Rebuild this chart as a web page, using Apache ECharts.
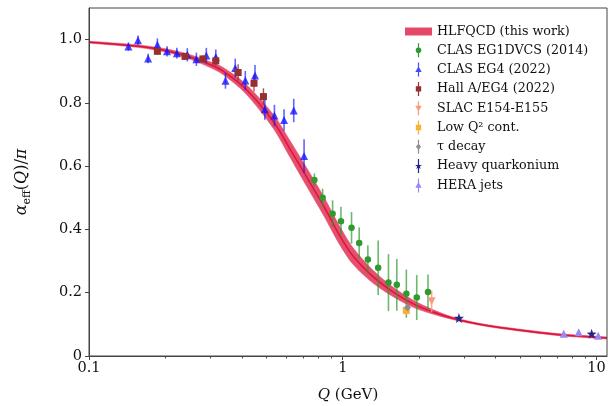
<!DOCTYPE html>
<html><head><meta charset="utf-8">
<script src="https://cdn.jsdelivr.net/npm/echarts@6/dist/echarts.min.js"></script>
<style>html,body{margin:0;padding:0;background:#fff}#c{width:608px;height:406px}</style>
</head><body><div id="c"></div><script>
// ---- HLFQCD curve ----
const curveQ = [0.1, 0.157, 0.2, 0.247, 0.3, 0.334, 0.414, 0.532, 0.619, 0.719, 0.837, 0.974, 1.1, 1.319, 1.582, 1.897, 2.275, 2.69, 3.27, 3.92, 5.31, 7.18, 11];
const curveV = [0.992, 0.979, 0.966, 0.947, 0.921, 0.903, 0.845, 0.742, 0.655, 0.567, 0.477, 0.380, 0.315, 0.25, 0.202, 0.165, 0.139, 0.12, 0.104, 0.093, 0.079, 0.067, 0.057];
const curveHalf = [0.003, 0.004, 0.005, 0.007, 0.009, 0.011, 0.015, 0.022, 0.026, 0.029, 0.030, 0.029, 0.026, 0.020, 0.015, 0.011, 0.007, 0.004, 0.003, 0.003, 0.003, 0.003, 0.003];

// ---- data sets: [Q, alpha/pi, error] ----
const clasEG1dvcs = [[0.773,0.556,0.021],[0.833,0.500,0.029],[0.912,0.450,0.042],[0.984,0.426,0.046],[1.083,0.405,0.050],[1.161,0.357,0.049],[1.256,0.305,0.045],[1.379,0.279,0.086],[1.514,0.232,0.090],[1.633,0.225,0.082],[1.781,0.197,0.076],[1.957,0.185,0.071],[2.167,0.202,0.056]];
const clasEG4 = [[0.143,0.978,0.013],[0.156,0.998,0.015],[0.171,0.940,0.015],[0.186,0.984,0.020],[0.203,0.963,0.016],[0.222,0.957,0.017],[0.244,0.952,0.021],[0.265,0.938,0.021],[0.290,0.950,0.024],[0.316,0.945,0.024],[0.345,0.870,0.025],[0.377,0.910,0.030],[0.413,0.871,0.030],[0.451,0.887,0.033],[0.493,0.780,0.033],[0.538,0.760,0.034],[0.587,0.746,0.034],[0.641,0.776,0.037],[0.704,0.632,0.053]];
const hallA = [[0.186,0.963,0.010],[0.239,0.947,0.010],[0.281,0.939,0.012],[0.316,0.933,0.015],[0.387,0.896,0.026],[0.447,0.862,0.026],[0.487,0.820,0.026]];
const slac = [[2.24,0.173,0.034]];
const lowQ2 = [[1.78,0.144,0.012]];
const tauDecay = [[1.80,0.153,0.010]];
const heavyQ = [[2.87,0.120,0.004],[9.57,0.070,0.004]];
const heraJets = [[7.43,0.070,0.003],[8.51,0.075,0.003],[10.16,0.064,0.003]];

// ---- axis ticks ----
const xMajor = [0.1, 1, 10];
const xMinor = [0.2,0.3,0.4,0.5,0.6,0.7,0.8,0.9,2,3,4,5,6,7,8,9];
const yTicks = [0, 0.2, 0.4, 0.6, 0.8, 1.0];

const FONT = 'DejaVu Serif';
const C = {
  curve: '#dc143c', band: '#e6506e',
  green: '#2f9a2f', blue: 'rgba(20,20,255,0.78)', brown: '#963030',
  salmon: '#fb9a78', orange: '#fcb030', gray: '#8f8f8f', navy: '#25258c', purple: '#9a88f0'
};
const starPath = 'M5,3.4 L5.85,5.83 L8.42,5.89 L6.38,7.45 L7.12,9.91 L5,8.45 L2.88,9.91 L3.62,7.45 L1.58,5.89 L4.15,5.83 Z';
const bar = 'M4.4,0 h1.2 v14 h-1.2 Z ';
const icons = {
  circle: 'path://' + bar + 'M2.2,7 A2.8,2.8 0 1,1 7.8,7 A2.8,2.8 0 1,1 2.2,7 Z',
  tri: 'path://' + bar + 'M5,3.6 L8.2,9.4 L1.8,9.4 Z',
  sq: 'path://' + bar + 'M2.3,4.3 h5.4 v5.4 h-5.4 Z',
  triDown: 'path://' + bar + 'M1.8,4.6 L8.2,4.6 L5,10.4 Z',
  diamond: 'path://' + bar + 'M5,3.8 L7.6,7 L5,10.2 L2.4,7 Z',
  star: 'path://' + bar + starPath
};

function errSeries(data, color, width, opacity) {
  return {
    type: 'custom', data: data, z: 3, silent: true,
    encode: {x: 0, y: 1},
    renderItem: function (params, api) {
      const x = api.value(0), y = api.value(1), e = api.value(2);
      const p1 = api.coord([x, y - e]), p2 = api.coord([x, y + e]);
      return {type: 'line', shape: {x1: p1[0], y1: p1[1], x2: p2[0], y2: p2[1]},
        style: {stroke: color, lineWidth: width, opacity: opacity}};
    }
  };
}
function scat(name, data, color, symbol, size, extra) {
  return Object.assign({
    name: name, type: 'scatter', data: data.map(d => [d[0], d[1]]), z: 4,
    symbol: symbol, symbolSize: size, itemStyle: {color: color, opacity: 1}
  }, extra || {});
}

const upper = curveQ.map((q, i) => [q, curveV[i] + curveHalf[i]]);
const lower = curveQ.map((q, i) => [q, curveV[i] - curveHalf[i]]);
const center = curveQ.map((q, i) => [q, curveV[i]]);
const SM = 0.3;

const chart = echarts.init(document.getElementById('c'), null, {renderer: 'canvas'});
chart.setOption({
  animation: false,
  textStyle: {fontFamily: FONT},
  grid: {left: 89, right: 1, top: 8, bottom: 50, show: true, borderColor: '#444', borderWidth: 1,
    z: 10, outerBoundsMode: 'none', containLabel: false},
  xAxis: [{
    type: 'log', logBase: 10, min: 0.1, max: 11, z: 10,
    name: '{i|Q} (GeV)', nameLocation: 'middle', nameGap: 32,
    nameTextStyle: {fontFamily: FONT, fontSize: 15, color: '#111', rich: {i: {fontStyle: 'italic', fontFamily: FONT, fontSize: 15, color: '#111'}}},
    axisLine: {show: true, lineStyle: {color: '#444', width: 1}},
    axisTick: {show: true, inside: false, length: 4, lineStyle: {color: '#444'}, customValues: xMajor},
    axisLabel: {show: true, customValues: xMajor, fontFamily: FONT, fontSize: 14.5, color: '#111', margin: 5,
      formatter: v => (v < 1 ? v.toFixed(1) : String(Math.round(v)))},
    splitLine: {show: false}, minorTick: {show: false}
  }, {
    type: 'log', logBase: 10, min: 0.1, max: 11, gridIndex: 0, position: 'bottom', z: 10,
    axisLine: {show: false}, axisLabel: {show: false}, splitLine: {show: false},
    axisTick: {show: true, inside: false, length: 2.5, lineStyle: {color: '#444'}, customValues: xMinor}
  }],
  yAxis: {
    type: 'value', min: 0, max: 1.1, z: 10,
    name: '{a|α}{s|eff}{n|(}{q|Q}{n|)/}{a|π}', nameLocation: 'middle', nameGap: 56, nameRotate: 90,
    nameTextStyle: {fontFamily: FONT, fontSize: 16, color: '#111', rich: {
      a: {fontFamily: FONT, fontStyle: 'italic', fontSize: 16, lineHeight: 22, verticalAlign: 'middle', color: '#111'},
      q: {fontFamily: FONT, fontStyle: 'italic', fontSize: 16, lineHeight: 22, verticalAlign: 'middle', color: '#111'},
      n: {fontFamily: FONT, fontSize: 16, lineHeight: 22, verticalAlign: 'middle', color: '#111'},
      s: {fontFamily: FONT, fontSize: 11, lineHeight: 13, verticalAlign: 'bottom', color: '#111'}
    }},
    axisLine: {show: true, lineStyle: {color: '#444', width: 1}},
    axisTick: {show: true, inside: false, length: 4, lineStyle: {color: '#444'}, customValues: yTicks},
    axisLabel: {customValues: yTicks, fontFamily: FONT, fontSize: 14.5, color: '#111', margin: 7,
      formatter: v => (v === 0 ? '0' : v.toFixed(1))},
    splitLine: {show: false}
  },
  legend: {
    orient: 'vertical', left: 405, top: 25, padding: 0,
    itemWidth: 27, itemHeight: 14, itemGap: 5.3,
    textStyle: {fontFamily: FONT, fontSize: 12.7, color: '#111'},
    data: [
      {name: 'HLFQCD (this work)', icon: 'path://M0,0 h27 v8 h-27 Z', itemStyle: {color: '#e44a68'}},
      {name: 'CLAS EG1DVCS (2014)', icon: icons.circle},
      {name: 'CLAS EG4 (2022)', icon: icons.tri},
      {name: 'Hall A/EG4 (2022)', icon: icons.sq},
      {name: 'SLAC E154-E155', icon: icons.triDown},
      {name: 'Low Q² cont.', icon: icons.sq},
      {name: 'τ decay', icon: icons.diamond},
      {name: 'Heavy quarkonium', icon: icons.star},
      {name: 'HERA jets', icon: icons.tri}
    ]
  },
  series: [
    {type: 'line', data: upper, smooth: SM, symbol: 'none', z: 1, silent: true,
      lineStyle: {color: C.band, width: 0.6}, areaStyle: {color: C.band, opacity: 1}},
    {type: 'line', data: lower, smooth: SM, symbol: 'none', z: 1.5, silent: true,
      lineStyle: {color: C.band, width: 0.6}, areaStyle: {color: '#ffffff', opacity: 1}},
    {name: 'HLFQCD (this work)', type: 'line', data: center, smooth: SM, symbol: 'none', z: 2,
      lineStyle: {color: C.curve, width: 1.5}, itemStyle: {color: C.curve}},
    errSeries(clasEG1dvcs, C.green, 1.6, 0.7),
    errSeries(clasEG4, C.blue, 1.6, 0.85),
    errSeries(hallA, C.brown, 1.4, 0.85),
    errSeries(slac, C.salmon, 1.6, 0.85),
    errSeries(lowQ2, C.orange, 1.4, 0.85),
    errSeries(tauDecay, C.gray, 1.4, 0.85),
    errSeries(heavyQ, C.navy, 1.2, 0.85),
    errSeries(heraJets, C.purple, 1.2, 0.85),
    scat('CLAS EG1DVCS (2014)', clasEG1dvcs, C.green, 'circle', 6.5),
    scat('CLAS EG4 (2022)', clasEG4, C.blue, 'triangle', [8, 8]),
    scat('Hall A/EG4 (2022)', hallA, C.brown, 'rect', 7),
    scat('SLAC E154-E155', slac, C.salmon, 'triangle', [8, 8], {symbolRotate: 180}),
    scat('Low Q² cont.', lowQ2, C.orange, 'rect', 7),
    scat('τ decay', tauDecay, C.gray, 'diamond', [7, 8]),
    scat('Heavy quarkonium', heavyQ, C.navy, 'path://' + starPath, [10, 10]),
    scat('HERA jets', heraJets, C.purple, 'triangle', [8, 8])
  ]
});
</script></body></html>
